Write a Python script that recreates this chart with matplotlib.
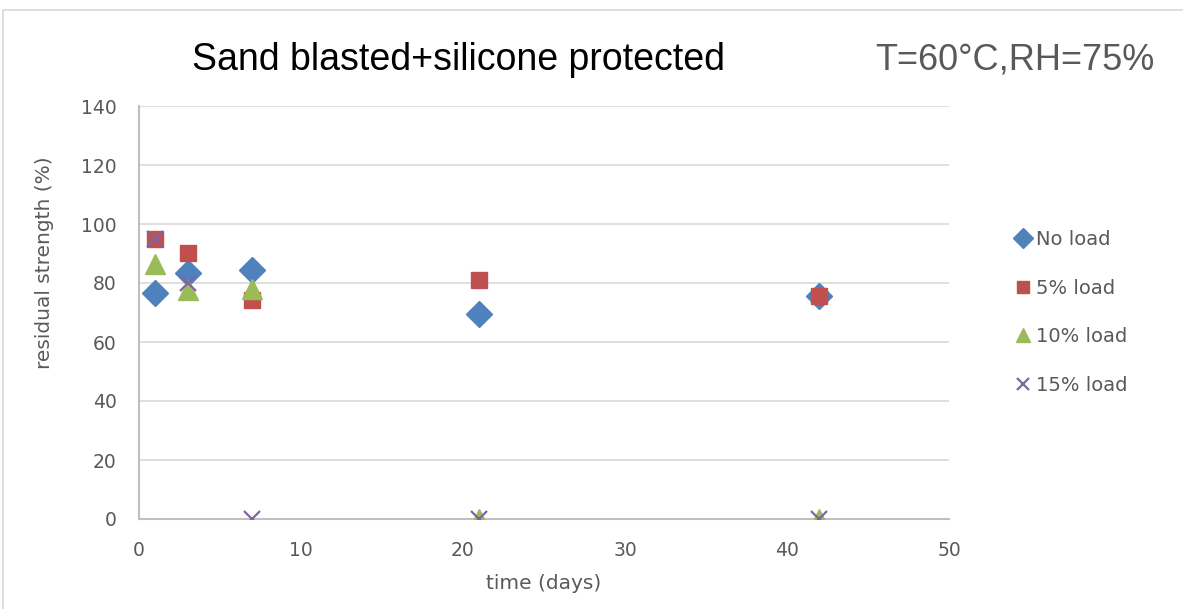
import numpy as np
from matplotlib import pyplot as plt

days = [1, 3, 7, 21, 42]
no_load = [76.5, 83.5, 84.3, 69.5, 75.5]
load_5 = [95, 90.2, 74.3, 81, 75.5]
load_10 = [86.5, 77.6, 78, 0, 0]
load_15 = [95, 80, 0, 0, 0]

labels = ['No load', '5% load', '10% load', '15% load']
colors = ['#4f81bd', '#c0504d', '#9bbb59', '#8064a2']

fig = plt.figure(figsize=(11.83, 6.09), dpi=100)
ax = fig.add_axes([139 / 1183, 90 / 609, 810 / 1183, 413 / 609])

# рамка вокруг диаграммы
fig.patches.append(plt.Rectangle((3 / 1183, -0.1), 1.2, 1.1 - 9.5 / 609,
                                 transform=fig.transFigure, fill=False,
                                 edgecolor='#d9d9d9', linewidth=1.2))

ax.plot(days, no_load, linestyle='none', marker='D', ms=13.5, color=colors[0],
        label=labels[0], zorder=3)
ax.plot(days, load_5, linestyle='none', marker='s', ms=11, color=colors[1],
        label=labels[1], zorder=3)
ax.plot(days, load_10, linestyle='none', marker='^', ms=14, color=colors[2],
        label=labels[2], zorder=3)
ax.plot(days, load_15, linestyle='none', marker='x', ms=11, mew=1.6,
        color=colors[3], label=labels[3], zorder=4)

ax.set_xlim(0, 50)
ax.set_ylim(0, 140)
ax.set_xticks(np.arange(0, 51, 10))
ax.set_yticks(np.arange(0, 141, 20))
ax.grid(axis='y', color='#d9d9d9', linewidth=1.2)
ax.set_axisbelow(True)
for s in ['top', 'right']:
    ax.spines[s].set_visible(False)
for s in ['left', 'bottom']:
    ax.spines[s].set_color('#bfbfbf')
    ax.spines[s].set_linewidth(1.5)
ax.tick_params(length=0, labelsize=13.5, labelcolor='#595959', pad=16)
ax.set_xlabel('time (days)', fontsize=14.5, color='#595959', labelpad=10)
ax.set_ylabel('residual strength (%)', fontsize=14.5, color='#595959')
ax.yaxis.set_label_coords(-0.105, 0.62)

fig.text(458 / 1183, 1 - 60 / 609, 'Sand blasted+silicone protected', fontsize=27,
         ha='center', va='center', color='black', family='Liberation Sans')
fig.text(1155 / 1183, 1 - 60 / 609, 'T=60°C,RH=75%', fontsize=26,
         ha='right', va='center', color='#595959', family='Liberation Sans')

ax.legend(loc='center left', bbox_to_anchor=(1.06, 0.5), frameon=False,
          fontsize=14, labelcolor='#595959', markerscale=0.75, handlelength=0.8,
          handletextpad=0.3, labelspacing=1.52)

plt.savefig('out.png', dpi=100)
